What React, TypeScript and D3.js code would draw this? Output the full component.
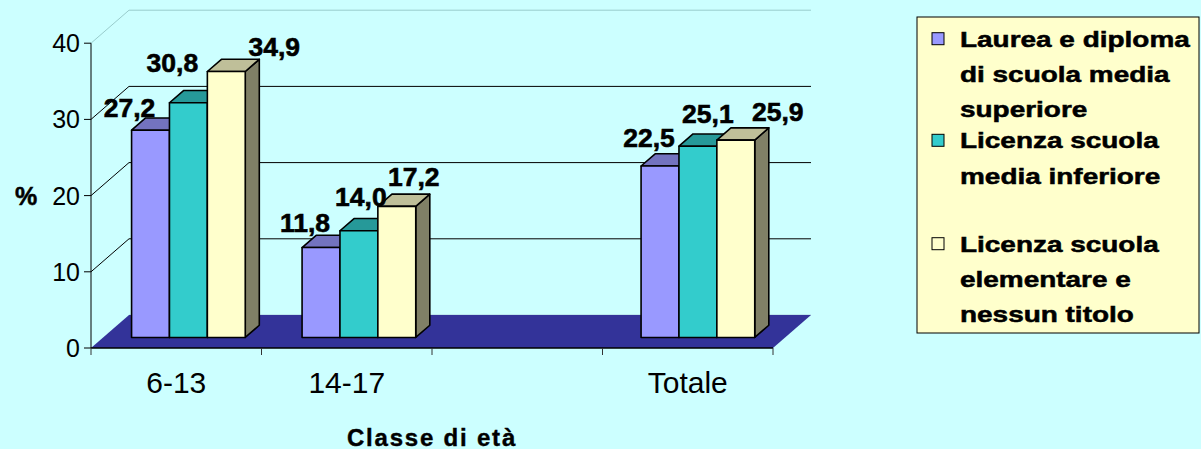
import React from "react";
import * as d3 from "d3";

// ---- data ----
const categories = ["6-13", "14-17", "", "Totale"];
const seriesNames = [
  "Laurea e diploma di scuola media superiore",
  "Licenza scuola media inferiore",
  "Licenza scuola elementare e nessun titolo",
];
const laureaDiploma: (number | null)[] = [27.2, 11.8, null, 22.5];
const mediaInferiore: (number | null)[] = [30.8, 14.0, null, 25.1];
const elementare: (number | null)[] = [34.9, 17.2, null, 25.9];
const yTicks = [0, 10, 20, 30, 40];
const legendLines = [
  ["Laurea e diploma", "di scuola media", "superiore"],
  ["Licenza scuola", "media inferiore"],
  ["Licenza scuola", "elementare e", "nessun titolo"],
];
const yTitle = "%";
const xTitle = "Classe di età";

// ---- styles / layout ----
const seriesValues = [laureaDiploma, mediaInferiore, elementare];
const colors = ["#9999FF", "#33CCCC", "#FFFFCC"];
const topColors = ["#7373BF", "#269999", "#BFBF99"];
const sideColors = ["#4D4D80", "#1A6666", "#808066"];
// label nudges relative to the bar's front-top centre [dx, dy]
const labelNudges = [
  [[-21, -13], [-16, -16], [0, 0], [-11, -19]],
  [[-16, -31], [2, -25], [0, 0], [10, -23]],
  [[48, -16], [17, -20], [0, 0], [42, -19]],
];

const W = 1201;
const H = 449;
const X0 = 91;
const X1 = 773;
const DX = 38;
const DY = -33;
const Z0 = 0.32;
const Z1 = 0.69;
const FONT = "'Liberation Sans', Arial, Helvetica, sans-serif";

export default function App() {
  const y = d3.scaleLinear().domain([0, 40]).range([348, 43.2]);
  const x = d3.scaleBand<string>().domain(categories).range([X0, X1]).paddingInner(0).paddingOuter(0);
  const inner = d3
    .scaleBand<number>()
    .domain([0, 1, 2])
    .range([0, x.bandwidth()])
    .paddingInner(0)
    .paddingOuter(0.75);
  const bw = inner.bandwidth();
  const y0 = y(0);
  const fmt = (v: number) => v.toFixed(1).replace(".", ",");
  const pts = (p: number[][]) => p.map((q) => q.join(",")).join(" ");

  const bars: React.ReactNode[] = [];
  const labels: React.ReactNode[] = [];
  categories.forEach((c, ci) => {
    seriesValues.forEach((vals, si) => {
      const v = vals[ci];
      if (v == null) return;
      const bx = (x(c) as number) + (inner(si) as number) - (ci === 3 ? 2 : 0);
      const fx = bx + Z0 * DX;
      const ft = y(v) + Z0 * DY;
      const fb = y0 + Z0 * DY;
      const ddx = (Z1 - Z0) * DX;
      const ddy = (Z1 - Z0) * DY;
      bars.push(
        <g key={`b${ci}-${si}`} stroke="#000" strokeWidth={1.6} strokeLinejoin="round">
          <polygon
            points={pts([[fx + bw, ft], [fx + bw + ddx, ft + ddy], [fx + bw + ddx, fb + ddy], [fx + bw, fb]])}
            fill={sideColors[si]}
          />
          <polygon
            points={pts([[fx, ft], [fx + bw, ft], [fx + bw + ddx, ft + ddy], [fx + ddx, ft + ddy]])}
            fill={topColors[si]}
          />
          <rect x={fx} y={ft} width={bw} height={fb - ft} fill={colors[si]} />
        </g>
      );
      const [ndx, ndy] = labelNudges[si][ci];
      labels.push(
        <text
          key={`l${ci}-${si}`}
          x={fx + bw / 2 + ndx}
          y={ft + ndy}
          textAnchor="middle"
          fontFamily={FONT}
          fontWeight="bold"
          fontSize={26.5}
          fill="#000"
          stroke="#000"
          strokeWidth={0.6}
        >
          {fmt(v)}
        </text>
      );
    });
  });

  const legendX = 917;
  const legendY = 17;
  const legendBaselines = [
    [46.7, 81.7, 116.7],
    [148.3, 184],
    [251.7, 286.7, 321.7],
  ];

  return (
    <svg
      width={W}
      height={H}
      style={{ position: "absolute", left: 0, top: 0, display: "block" }}
    >
      <rect x={0} y={0} width={W} height={H} fill="#CCFFFF" />

      {/* back wall grid lines */}
      {yTicks.map((t) => (
        <line
          key={`g${t}`}
          x1={X0 + DX}
          x2={X1 + DX}
          y1={y(t) + DY}
          y2={y(t) + DY}
          stroke={t === 40 ? "#99CCCC" : t === 0 ? "#AACCDD" : "#000"}
          strokeWidth={1}
        />
      ))}
      {/* side wall diagonals */}
      {yTicks
        .filter((t) => t > 0)
        .map((t) => (
          <line
            key={`d${t}`}
            x1={X0}
            y1={y(t)}
            x2={X0 + DX}
            y2={y(t) + DY}
            stroke={t === 40 ? "#99CCCC" : "#000"}
            strokeWidth={1}
          />
        ))}

      {/* floor */}
      <polygon
        points={pts([[X0, y0], [X0 + DX, y0 + DY], [X1 + DX, y0 + DY], [X1, y0]])}
        fill="#333399"
      />

      {bars}

      {/* y axis */}
      <line x1={X0} x2={X0} y1={y(40)} y2={y0} stroke="#000" strokeWidth={1} />
      {yTicks.map((t) => (
        <g key={`t${t}`}>
          <line x1={X0 - 7} x2={X0} y1={y(t)} y2={y(t)} stroke="#000" strokeWidth={1} />
          <text
            x={80}
            y={y(t) + 9}
            textAnchor="end"
            fontFamily={FONT}
            fontSize={25}
            fill="#000"
          >
            {t}
          </text>
        </g>
      ))}
      <text x={26} y={y(20) + 9} textAnchor="middle" fontFamily={FONT} fontWeight="bold" fontSize={25} fill="#000" stroke="#000" strokeWidth={0.5}>
        {yTitle}
      </text>

      {/* x axis */}
      <line x1={X0} x2={X1} y1={y0} y2={y0} stroke="#000" strokeWidth={1.5} />
      {[...categories.map((c) => x(c) as number), X1].map((px, i) => (
        <line key={`xt${i}`} x1={px} x2={px} y1={y0} y2={y0 + 7} stroke="#333" strokeWidth={1} />
      ))}
      {categories.map((c) => (
        <text
          key={`c${c}`}
          x={(x(c) as number) + x.bandwidth() / 2}
          y={393}
          textAnchor="middle"
          fontFamily={FONT}
          fontSize={30}
          fill="#000"
        >
          {c}
        </text>
      ))}
      <text
        x={(X0 + X1) / 2}
        y={445.5}
        textAnchor="middle"
        fontFamily={FONT}
        fontWeight="bold"
        fontSize={24}
        letterSpacing={1.8}
        fill="#000"
        stroke="#000"
        strokeWidth={0.4}
      >
        {xTitle}
      </text>

      {labels}

      {/* legend */}
      <rect x={legendX} y={legendY} width={W - 2 - legendX} height={333 - legendY} fill="#FFFFCC" stroke="#000" strokeWidth={1} />
      {legendLines.map((lines, si) => (
        <g key={`lg${si}`}>
          <rect
            x={932}
            y={legendBaselines[si][0] - 14}
            width={12}
            height={12}
            fill={colors[si]}
            stroke="#000"
            strokeWidth={1}
          >
            <title>{seriesNames[si]}</title>
          </rect>
          {lines.map((ln, li) => (
            <text
              key={`lt${li}`}
              transform={`translate(960,${legendBaselines[si][li]}) scale(1.3,1)`}
              fontFamily={FONT}
              fontWeight="bold"
              fontSize={21.5}
              fill="#000"
              stroke="#000"
              strokeWidth={0.5}
            >
              {ln}
            </text>
          ))}
        </g>
      ))}
    </svg>
  );
}
